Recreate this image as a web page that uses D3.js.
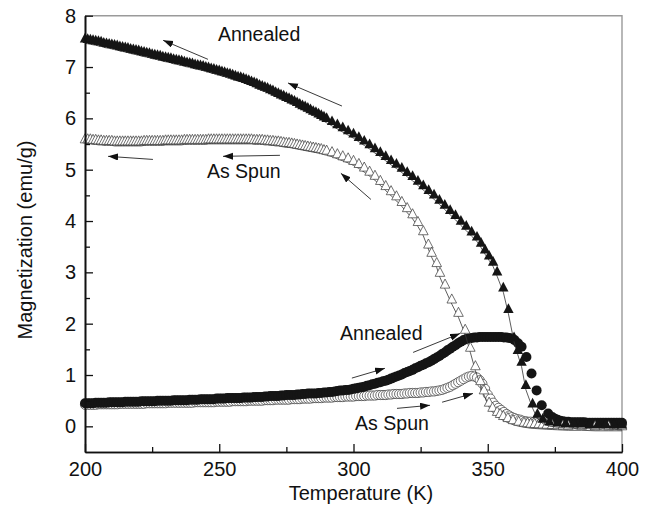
<!DOCTYPE html>
<html>
<head>
<meta charset="utf-8">
<script src="https://cdn.jsdelivr.net/npm/d3@7"></script>
<style>
  body { margin: 0; background: #fff; }
  svg { display: block; font-family: "Liberation Sans", Arial, sans-serif; }
</style>
</head>
<body>
<div id="chart"></div>
<script>
// [temperature K, magnetization emu/g]
const annealedCooling = [
  [200,7.57],[201,7.56],[202,7.55],[203,7.54],[204,7.53],[205,7.52],[206,7.51],[207,7.49],[208,7.48],[209,7.47],
  [210,7.46],[211,7.45],[212,7.44],[213,7.42],[214,7.41],[215,7.40],[216,7.39],[217,7.37],[218,7.36],[219,7.35],
  [220,7.34],[221,7.32],[222,7.31],[223,7.30],[224,7.29],[225,7.27],[226,7.26],[227,7.25],[228,7.24],[229,7.22],
  [230,7.21],[231,7.20],[232,7.19],[233,7.17],[234,7.16],[235,7.15],[236,7.14],[237,7.12],[238,7.11],[239,7.10],
  [240,7.09],[241,7.07],[242,7.06],[243,7.05],[244,7.04],[245,7.02],[246,7.01],[247,6.99],[248,6.98],[249,6.96],
  [250,6.95],[251,6.93],[252,6.92],[253,6.90],[254,6.89],[255,6.87],[256,6.85],[257,6.83],[258,6.82],[259,6.80],
  [260,6.78],[261,6.76],[262,6.74],[263,6.72],[264,6.70],[265,6.67],[266,6.65],[267,6.63],[268,6.61],[269,6.58],
  [270,6.56],[271,6.53],[272,6.51],[273,6.48],[274,6.46],[275,6.43],[276,6.41],[277,6.38],[278,6.36],[279,6.33],
  [280,6.30],[281,6.27],[282,6.25],[283,6.22],[284,6.19],[285,6.16],[286,6.14],[287,6.11],[288,6.08],[289,6.05],
  [290,6.02],[292,5.96],[294,5.90],[296,5.84],[298,5.78],[300,5.72],[302,5.65],[304,5.58],[306,5.51],[308,5.43],
  [310,5.36],[312,5.28],[314,5.20],[316,5.13],[318,5.05],[320,4.97],[322,4.89],[324,4.80],[326,4.71],[328,4.62],
  [330,4.53],[332,4.43],[334,4.33],[336,4.23],[338,4.13],[340,4.02],[342,3.92],[344,3.81],[346,3.71],[347.5,3.59],
  [349,3.46],[350.5,3.34],[352,3.22],[353.5,3.03],[355.8,2.72],[357.7,2.30],[359.8,1.75],[361.2,1.50],[362.6,1.27],
  [364.2,0.82],[366.7,0.46],[368.5,0.26],[370.5,0.16],[373,0.11],[376,0.09],[379,0.08],[382,0.07],[385,0.07],
  [388,0.06],[391,0.06],[394,0.06],[397,0.05],[400,0.05]
]
const asSpunCooling = [
  [200,5.61],[201,5.61],[202,5.61],[203,5.60],[204,5.60],[205,5.59],[206,5.59],[207,5.58],[208,5.58],[209,5.58],
  [210,5.58],[211,5.57],[212,5.57],[213,5.57],[214,5.57],[215,5.57],[216,5.57],[217,5.57],[218,5.57],[219,5.57],
  [220,5.57],[221,5.57],[222,5.58],[223,5.58],[224,5.58],[225,5.58],[226,5.58],[227,5.58],[228,5.58],[229,5.58],
  [230,5.59],[231,5.59],[232,5.59],[233,5.59],[234,5.59],[235,5.59],[236,5.59],[237,5.60],[238,5.60],[239,5.60],
  [240,5.60],[241,5.60],[242,5.60],[243,5.60],[244,5.60],[245,5.60],[246,5.61],[247,5.61],[248,5.61],[249,5.61],
  [250,5.61],[251,5.61],[252,5.61],[253,5.61],[254,5.61],[255,5.61],[256,5.61],[257,5.61],[258,5.61],[259,5.61],
  [260,5.61],[261,5.61],[262,5.61],[263,5.60],[264,5.60],[265,5.60],[266,5.60],[267,5.59],[268,5.59],[269,5.58],
  [270,5.58],[271,5.57],[272,5.57],[273,5.56],[274,5.55],[275,5.54],[276,5.54],[277,5.53],[278,5.52],[279,5.51],
  [280,5.50],[281,5.49],[282,5.48],[283,5.47],[284,5.46],[285,5.45],[286,5.44],[287,5.43],[288,5.42],[289,5.40],
  [290,5.39],[292,5.36],[294,5.32],[296,5.28],[298,5.24],[300,5.19],[302,5.13],[304,5.06],[306,4.98],[308,4.90],
  [310,4.80],[312,4.70],[314,4.60],[316,4.50],[318,4.39],[320,4.27],[322,4.15],[324,4.00],[326,3.82],
  [327.9,3.56],[329.1,3.40],[331,3.20],[332.2,3.01],[334.1,2.78],[336.6,2.49],[339.1,2.23],[341.6,1.90],
  [343.5,1.55],[345.4,1.19],[347.3,0.90],[348.6,0.72],[350.5,0.48],[351.8,0.38],[353.5,0.30],[354.6,0.26],
  [355.8,0.22],[357.5,0.18],[359.4,0.14],[361.5,0.11],[363.5,0.09],[364.8,0.08],[366,0.07],[367.5,0.065],
  [369,0.06],[370.5,0.055],[372,0.05],[374,0.045],[376,0.04],[378,0.035],[380,0.03],[385,0.03],[390,0.02],
  [395,0.02],[400,0.02]
]
const annealedHeating = [
  [200,0.45],[201,0.45],[202,0.45],[203,0.45],[204,0.46],[205,0.46],[206,0.46],[207,0.46],[208,0.46],[209,0.47],
  [210,0.47],[211,0.47],[212,0.47],[213,0.47],[214,0.47],[215,0.48],[216,0.48],[217,0.48],[218,0.48],[219,0.48],
  [220,0.48],[221,0.49],[222,0.49],[223,0.49],[224,0.49],[225,0.49],[226,0.49],[227,0.50],[228,0.50],[229,0.50],
  [230,0.50],[231,0.50],[232,0.50],[233,0.51],[234,0.51],[235,0.51],[236,0.51],[237,0.51],[238,0.51],[239,0.52],
  [240,0.52],[241,0.52],[242,0.52],[243,0.53],[244,0.53],[245,0.53],[246,0.53],[247,0.53],[248,0.53],[249,0.54],
  [250,0.54],[251,0.54],[252,0.54],[253,0.55],[254,0.55],[255,0.55],[256,0.55],[257,0.55],[258,0.55],[259,0.56],
  [260,0.56],[261,0.56],[262,0.56],[263,0.57],[264,0.57],[265,0.57],[266,0.57],[267,0.58],[268,0.58],[269,0.59],
  [270,0.59],[271,0.59],[272,0.59],[273,0.60],[274,0.60],[275,0.61],[276,0.61],[277,0.61],[278,0.61],[279,0.62],
  [280,0.62],[281,0.63],[282,0.63],[283,0.64],[284,0.64],[285,0.64],[286,0.64],[287,0.65],[288,0.65],[289,0.66],
  [290,0.66],[291,0.67],[292,0.67],[293,0.68],[294,0.69],[295,0.70],[296,0.70],[297,0.71],[298,0.71],[299,0.72],
  [300,0.73],[301,0.74],[302,0.75],[303,0.76],[304,0.77],[305,0.79],[306,0.80],[307,0.82],[308,0.83],[309,0.85],
  [310,0.86],[311,0.88],[312,0.89],[313,0.91],[314,0.93],[315,0.95],[316,0.97],[317,0.99],[318,1.01],[319,1.04],
  [320,1.06],[321,1.08],[322,1.10],[323,1.13],[324,1.15],[325,1.18],[326,1.20],[327,1.23],[328,1.25],[329,1.28],
  [330,1.31],[331,1.34],[332,1.37],[333,1.41],[334,1.44],[335,1.48],[336,1.51],[337,1.55],[338,1.58],[339,1.62],
  [340,1.65],[341,1.68],[342,1.70],[343,1.71],[344,1.72],[345,1.73],[346,1.73],[347,1.74],[348,1.74],[349,1.74],
  [350,1.74],[351,1.74],[352,1.74],[353,1.74],[354,1.74],[355,1.74],[356,1.73],[357,1.73],[358,1.72],[359,1.71],
  [360,1.68],[361.3,1.62],[362.6,1.55],[364.4,1.35],[366.3,1.03],[368.2,0.70],[370.1,0.41],[372.5,0.25],
  [374,0.18],[375,0.15],[376,0.13],[377,0.11],[378,0.10],[379,0.09],[380,0.09],[381,0.08],[382,0.08],[383,0.08],
  [384,0.08],[385,0.08],[386,0.08],[387,0.07],[388,0.07],[389,0.07],[390,0.07],[391,0.07],[392,0.07],[393,0.07],
  [394,0.07],[395,0.07],[396,0.07],[397,0.07],[398,0.07],[399,0.07],[400,0.07]
]
const asSpunHeating = [
  [200,0.42],[201,0.42],[202,0.42],[203,0.42],[204,0.42],[205,0.43],[206,0.43],[207,0.43],[208,0.43],[209,0.43],
  [210,0.43],[211,0.43],[212,0.43],[213,0.44],[214,0.44],[215,0.44],[216,0.44],[217,0.44],[218,0.44],[219,0.44],
  [220,0.44],[221,0.44],[222,0.44],[223,0.45],[224,0.45],[225,0.45],[226,0.45],[227,0.45],[228,0.45],[229,0.45],
  [230,0.45],[231,0.46],[232,0.46],[233,0.46],[234,0.46],[235,0.46],[236,0.46],[237,0.46],[238,0.46],[239,0.46],
  [240,0.46],[241,0.47],[242,0.47],[243,0.47],[244,0.47],[245,0.47],[246,0.47],[247,0.47],[248,0.47],[249,0.48],
  [250,0.48],[251,0.48],[252,0.48],[253,0.48],[254,0.48],[255,0.49],[256,0.49],[257,0.49],[258,0.49],[259,0.49],
  [260,0.49],[261,0.50],[262,0.50],[263,0.50],[264,0.50],[265,0.50],[266,0.50],[267,0.51],[268,0.51],[269,0.51],
  [270,0.51],[271,0.52],[272,0.52],[273,0.52],[274,0.52],[275,0.52],[276,0.52],[277,0.53],[278,0.53],[279,0.53],
  [280,0.53],[281,0.54],[282,0.54],[283,0.54],[284,0.54],[285,0.55],[286,0.55],[287,0.55],[288,0.55],[289,0.56],
  [290,0.56],[291,0.56],[292,0.56],[293,0.57],[294,0.57],[295,0.57],[296,0.57],[297,0.58],[298,0.58],[299,0.58],
  [300,0.58],[301,0.59],[302,0.59],[303,0.59],[304,0.59],[305,0.60],[306,0.60],[307,0.60],[308,0.60],[309,0.61],
  [310,0.61],[311,0.61],[312,0.61],[313,0.62],[314,0.62],[315,0.63],[316,0.63],[317,0.63],[318,0.63],[319,0.64],
  [320,0.64],[321,0.65],[322,0.65],[323,0.65],[324,0.65],[325,0.66],[326,0.66],[327,0.67],[328,0.67],[329,0.68],
  [330,0.68],[331,0.69],[332,0.70],[333,0.71],[334,0.73],[335,0.75],[336,0.77],[337,0.80],[338,0.83],[339,0.86],
  [340,0.89],[341,0.92],[342,0.95],[343,0.97],[344,0.98],[345,0.97],[346,0.95],[347,0.90],[348,0.83],[349,0.73],
  [350,0.62],[351,0.54],[352,0.46],[353,0.40],[354,0.36],[355,0.32],[356,0.28],[357,0.24],[358,0.21],[359,0.18],
  [360,0.16],[361,0.14],[362,0.13],[363,0.11],[364,0.10],[365,0.09],[366,0.09],[367,0.08],[368,0.08],[369,0.07],
  [370,0.07],[372,0.06],[374,0.06],[376,0.05],[378,0.05],[380,0.04],[383,0.04],[386,0.04],[389,0.03],[392,0.03],
  [395,0.03],[398,0.03],[400,0.03]
]

const xTicks = [200, 250, 300, 350, 400]
const xMinorTicks = [225, 275, 325, 375]
const yTicks = [0, 1, 2, 3, 4, 5, 6, 7, 8]
const yMinorTicks = [0.5, 1.5, 2.5, 3.5, 4.5, 5.5, 6.5, 7.5]

// annotations, in data units
const labels = [
  { text: "Annealed", t: 249.5, m: 7.5 },
  { text: "As Spun", t: 245.4, m: 4.83 },
  { text: "Annealed", t: 295, m: 1.68 },
  { text: "As Spun", t: 300.6, m: -0.08 }
]
const arrows = [
  [[245.8, 7.15], [229.1, 7.52]],
  [[295.7, 6.24], [275.6, 6.69]],
  [[225.3, 5.20], [208.6, 5.26]],
  [[272.6, 5.28], [251.4, 5.26]],
  [[306.5, 4.42], [295.3, 4.93]],
  [[299.4, 0.94], [311.7, 1.13]],
  [[322.2, 1.44], [339.7, 1.81]],
  [[316.2, 0.35], [328.5, 0.41]],
  [[333.0, 0.47], [344.5, 0.64]]
]

const width = 654
const height = 515
const marginTop = 15.7
const marginRight = 32
const marginBottom = 63
const marginLeft = 85

const x = d3.scaleLinear().domain([200, 400]).range([marginLeft, width - marginRight])
const y = d3.scaleLinear().domain([-0.5, 8]).range([height - marginBottom, marginTop])

const svg = d3
  .create("svg")
  .attr("viewBox", [0, 0, width, height])
  .attr("width", width)
  .attr("height", height)

svg
  .append("defs")
  .append("marker")
  .attr("id", "head")
  .attr("markerUnits", "userSpaceOnUse")
  .attr("markerWidth", 11)
  .attr("markerHeight", 8)
  .attr("refX", 10)
  .attr("refY", 3.5)
  .attr("orient", "auto")
  .append("path")
  .attr("d", "M0,0L10,3.5L0,7Z")
  .attr("fill", "#111")

// frame: top and right in grey
svg
  .append("path")
  .attr("d", `M${x(200)},${y(8)}H${x(400)}V${y(-0.5)}`)
  .attr("fill", "none")
  .attr("stroke", "#9a9a9a")
  .attr("stroke-width", 1.4)

const line = d3.line().x(d => x(d[0])).y(d => y(d[1]))

const plot = svg.append("g")

// as spun, heating: open circles
plot
  .append("g")
  .selectAll("circle")
  .data(asSpunHeating)
  .join("circle")
  .attr("cx", d => x(d[0]))
  .attr("cy", d => y(d[1]))
  .attr("r", 4.6)
  .attr("fill", "#fff")
  .attr("stroke", "#333")
  .attr("stroke-width", 0.7)

// annealed, heating: filled circles
plot
  .append("g")
  .selectAll("circle")
  .data(annealedHeating)
  .join("circle")
  .attr("cx", d => x(d[0]))
  .attr("cy", d => y(d[1]))
  .attr("r", 5)
  .attr("fill", "#151515")

// cooling curves: triangles with a thin line just under them
const drawTriangles = (data, fill, tri) => {
  const g = plot.append("g")
  g.append("path")
    .datum(data)
    .attr("d", line)
    .attr("transform", "translate(0,5.5)")
    .attr("fill", "none")
    .attr("stroke", "#333")
    .attr("stroke-width", 0.8)
  g.selectAll("path.pt")
    .data(data)
    .join("path")
    .attr("class", "pt")
    .attr("d", tri)
    .attr("transform", d => `translate(${x(d[0])},${y(d[1])})`)
    .attr("fill", fill)
    .attr("stroke", fill === "#fff" ? "#333" : "none")
    .attr("stroke-width", 0.7)
}
drawTriangles(asSpunCooling, "#fff", "M0,-4.6L4.8,4.5L-4.8,4.5Z")
drawTriangles(annealedCooling, "#151515", "M0,-5L5.2,4.7L-5.2,4.7Z")

// annotations
svg
  .append("g")
  .selectAll("line")
  .data(arrows)
  .join("line")
  .attr("x1", d => x(d[0][0]))
  .attr("y1", d => y(d[0][1]))
  .attr("x2", d => x(d[1][0]))
  .attr("y2", d => y(d[1][1]))
  .attr("stroke", "#222")
  .attr("stroke-width", 0.9)
  .attr("marker-end", "url(#head)")

svg
  .append("g")
  .selectAll("text")
  .data(labels)
  .join("text")
  .attr("x", d => x(d.t))
  .attr("y", d => y(d.m))
  .attr("font-size", 19.5)
  .attr("fill", "#111")
  .text(d => d.text)

// axes
const xAxis = d3.axisBottom(x).tickValues(xTicks).tickSizeInner(-8).tickSizeOuter(0).tickPadding(10)
const xMinor = d3.axisBottom(x).tickValues(xMinorTicks).tickSizeInner(-5).tickSizeOuter(0).tickFormat("")
const yAxis = d3.axisLeft(y).tickValues(yTicks).tickSizeInner(-8).tickSizeOuter(0).tickPadding(9)
const yMinor = d3.axisLeft(y).tickValues(yMinorTicks).tickSizeInner(-5).tickSizeOuter(0).tickFormat("")

const styleAxis = g => {
  g.attr("font-family", null).attr("font-size", 20)
  g.select(".domain").attr("stroke", "#111").attr("stroke-width", 1.6)
  g.selectAll(".tick line").attr("stroke", "#111").attr("stroke-width", 1.3)
  g.selectAll(".tick text").attr("fill", "#111")
}

svg.append("g").attr("transform", `translate(0,${y(-0.5)})`).call(xMinor).call(styleAxis)
svg.append("g").attr("transform", `translate(0,${y(-0.5)})`).call(xAxis).call(styleAxis)
svg.append("g").attr("transform", `translate(${x(200)},0)`).call(yMinor).call(styleAxis)
svg.append("g").attr("transform", `translate(${x(200)},0)`).call(yAxis).call(styleAxis)

svg
  .append("text")
  .attr("x", 361)
  .attr("y", 500)
  .attr("text-anchor", "middle")
  .attr("font-size", 20)
  .attr("fill", "#111")
  .text("Temperature (K)")

svg
  .append("text")
  .attr("transform", "translate(32,240) rotate(-90)")
  .attr("text-anchor", "middle")
  .attr("font-size", 20)
  .attr("fill", "#111")
  .text("Magnetization (emu/g)")

document.querySelector("#chart").append(svg.node())
</script>
</body>
</html>
